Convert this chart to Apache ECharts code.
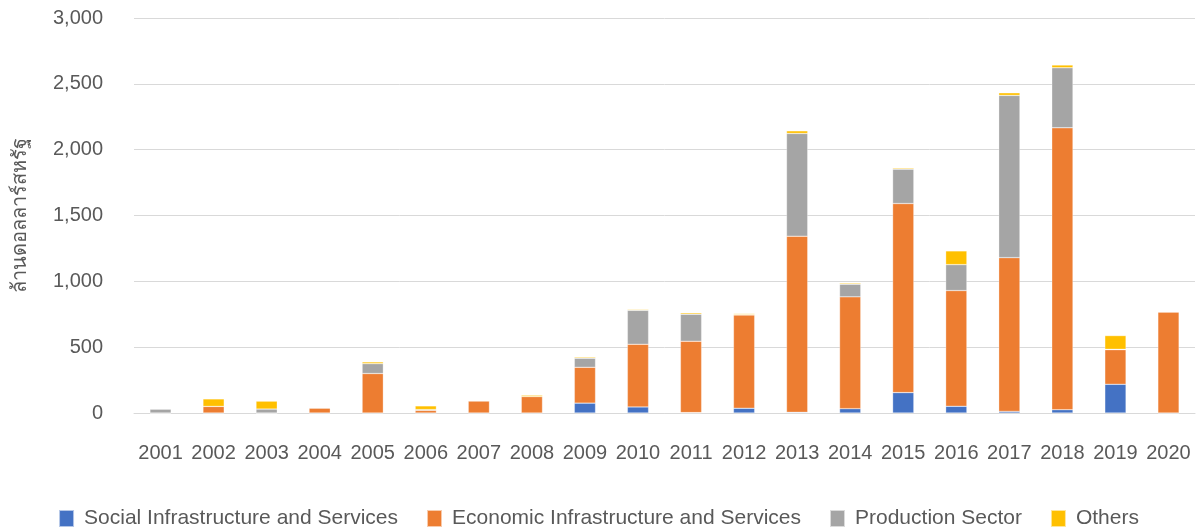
<!DOCTYPE html>
<html>
<head>
<meta charset="utf-8">
<script src="https://cdn.jsdelivr.net/npm/echarts@6/dist/echarts.min.js"></script>
<style>
  html, body { margin: 0; padding: 0; background: #fff; }
  #chart { width: 1197px; height: 529px; }
</style>
</head>
<body>
<div id="chart"></div>
<script>
const years = ['2001', '2002', '2003', '2004', '2005', '2006', '2007', '2008', '2009', '2010',
  '2011', '2012', '2013', '2014', '2015', '2016', '2017', '2018', '2019', '2020'];

// million USD
const social = [0, 0, 0, 0, 0, 0, 0, 0, 75, 46, 3, 36, 5, 33, 155, 51, 12, 25, 218, 0];
const economic = [0, 50, 0, 38, 300, 20, 92, 125, 272, 476, 542, 709, 1338, 849, 1436, 879, 1168, 2141, 263, 768];
const production = [30, 0, 30, 0, 75, 6, 0, 0, 69, 258, 205, 3, 780, 96, 261, 197, 1232, 456, 3, 0];
const others = [0, 57, 60, 3, 13, 28, 3, 10, 8, 6, 10, 7, 20, 8, 8, 104, 20, 21, 104, 2];

const seriesNames = ['Social Infrastructure and Services', 'Economic Infrastructure and Services', 'Production Sector', 'Others'];
const colors = ['#4472C4', '#ED7D31', '#A5A5A5', '#FFC000'];

const font = 'Liberation Sans, Arial, sans-serif';
var myChart = echarts.init(document.getElementById('chart'));

function bar(name, data) {
  return {
    name: name,
    type: 'bar',
    stack: 'total',
    barWidth: '40%',
    data: data,
    itemStyle: { borderColor: 'rgba(255,255,255,0.6)', borderWidth: 0.5 }
  };
}

var option = {
  color: colors,
  animation: false,
  textStyle: { fontFamily: font },
  grid: { left: 134, right: 2, top: 18, bottom: 116 },
  legend: {
    top: 503,
    left: 'center',
    itemWidth: 15,
    itemHeight: 17,
    itemGap: 28,
    icon: 'rect',
    textStyle: { fontSize: 21, color: '#595959', fontFamily: font, padding: [0, 0, 0, 5] },
    data: seriesNames
  },
  xAxis: {
    type: 'category',
    data: years,
    axisLine: { lineStyle: { color: '#d9d9d9', width: 1 } },
    axisTick: { show: false },
    axisLabel: { fontSize: 20, color: '#595959', margin: 30, interval: 0 }
  },
  yAxis: {
    type: 'value',
    min: 0,
    max: 3000,
    interval: 500,
    name: 'ล้านดอลลาร์สหรัฐ',
    nameLocation: 'middle',
    nameGap: 104,
    nameTextStyle: { fontSize: 20, color: '#595959' },
    axisLine: { show: false },
    axisTick: { show: false },
    splitLine: { lineStyle: { color: '#d9d9d9', width: 1 } },
    axisLabel: {
      fontSize: 20,
      color: '#595959',
      margin: 31,
      formatter: v => v.toLocaleString('en-US')
    }
  },
  series: [
    bar(seriesNames[0], social),
    bar(seriesNames[1], economic),
    bar(seriesNames[2], production),
    bar(seriesNames[3], others)
  ]
};

option && myChart.setOption(option);
</script>
</body>
</html>
